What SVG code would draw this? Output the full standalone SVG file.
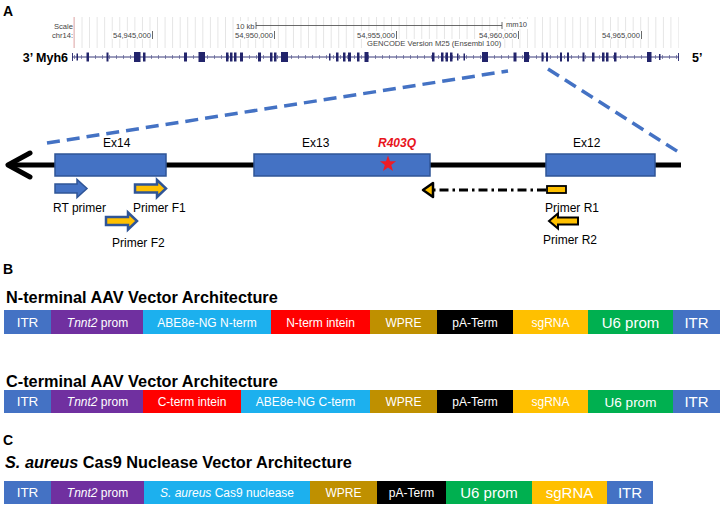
<svg xmlns="http://www.w3.org/2000/svg" width="721" height="510" viewBox="0 0 721 510">
<defs>
<pattern id="grid" patternUnits="userSpaceOnUse" x="74" y="0" width="7.55" height="60">
<line x1="0.4" y1="0" x2="0.4" y2="60" stroke="#dcdcdc" stroke-width="0.8"/>
</pattern>
</defs>
<style>
text{font-family:"Liberation Sans",Arial,sans-serif;}
.lab{font-weight:bold;font-size:14px;fill:#000;}
.ucsc{font-size:7.6px;fill:#444;}
.ex{fill:#22246b;}
.exon{fill:#4472C4;stroke:#2F5597;stroke-width:1.5;}
.t12{font-size:12px;fill:#000;}
.title{font-weight:bold;font-size:16.3px;fill:#000;}
.seg text{fill:#fff;text-anchor:middle;font-size:12px;}
.seg text.big{font-size:15px;}
.seg text.mid{font-size:13.5px;}
.zoomline{stroke:#4472C4;stroke-width:3.5;stroke-dasharray:13 7;fill:none;}
</style>

<text class="lab" x="3" y="16">A</text>

<g id="ucsc-track">
<rect x="73.6" y="17" width="605" height="31" fill="url(#grid)"/>
<line x1="74" y1="17" x2="74" y2="48" stroke="#e8a0a0" stroke-width="0.8"/>
<rect x="234" y="21" width="22" height="10" fill="#fff"/>
<rect x="502" y="19" width="28" height="10" fill="#fff"/>
<text class="ucsc" x="73" y="29" text-anchor="end">Scale</text>
<text class="ucsc" x="73" y="38" text-anchor="end">chr14:</text>
<text class="ucsc" x="236" y="29">10 kb</text>
<path d="M256 22V29M256 25.5H502M502 22V29" stroke="#444" stroke-width="0.8" fill="none"/>
<text class="ucsc" x="506" y="27">mm10</text>
<g class="ucsc">
<rect x="112" y="31" width="42" height="8" fill="#fff"/>
<rect x="234" y="31" width="42" height="8" fill="#fff"/>
<rect x="356" y="31" width="42" height="8" fill="#fff"/>
<rect x="478" y="31" width="42" height="8" fill="#fff"/>
<rect x="601" y="31" width="42" height="8" fill="#fff"/>
<rect x="366" y="39" width="138" height="9" fill="#fff"/>
<text x="151" y="38" text-anchor="end">54,945,000</text>
<text x="273" y="38" text-anchor="end">54,950,000</text>
<text x="395" y="38" text-anchor="end">54,955,000</text>
<text x="517" y="38" text-anchor="end">54,960,000</text>
<text x="640" y="38" text-anchor="end">54,965,000</text>
<text x="367" y="46">GENCODE Version M25 (Ensembl 100)</text>
</g>
<path d="M152.5 31V39M274.5 31V39M396.5 31V39M518.5 31V39M641.5 31V39" stroke="#444" stroke-width="0.8"/>
</g>

<g id="gene-myh6">
<text x="68" y="62" text-anchor="end" style="font-weight:bold;font-size:12.5px">3’ Myh6</text>
<text x="692" y="62" style="font-weight:bold;font-size:12.5px">5’</text>
<line x1="72" y1="57" x2="679" y2="57" stroke="#22246b" stroke-width="0.9"/>
<line x1="74" y1="57" x2="679" y2="57" stroke="#5a5c90" stroke-width="4" stroke-dasharray="0.7 6.3"/>
<line x1="72.5" y1="53" x2="72.5" y2="61" stroke="#22246b" stroke-width="0.9"/>
<line x1="678.5" y1="53" x2="678.5" y2="61" stroke="#22246b" stroke-width="0.9"/>
<g class="ex">
<rect x="76.5" y="53.5" width="1.5" height="7"/>
<rect x="86.5" y="52.5" width="2.5" height="9"/>
<rect x="106.5" y="52.5" width="2" height="9"/>
<rect x="134" y="52" width="6.5" height="10"/>
<rect x="143" y="52.5" width="2.5" height="9"/>
<rect x="184" y="52.5" width="3" height="9"/>
<rect x="198.5" y="52" width="6.5" height="10"/>
<rect x="226" y="52.5" width="2.5" height="9"/>
<rect x="230" y="52.5" width="2.5" height="9"/>
<rect x="234" y="52.5" width="2.5" height="9"/>
<rect x="240" y="52.5" width="3" height="9"/>
<rect x="258" y="52.5" width="3" height="9"/>
<rect x="270" y="52.5" width="2.5" height="9"/>
<rect x="274" y="52.5" width="2.5" height="9"/>
<rect x="281" y="52" width="7" height="10"/>
<rect x="329" y="53.5" width="1.5" height="7"/>
<rect x="336" y="52.5" width="2.5" height="9"/>
<rect x="343" y="52.5" width="2.5" height="9"/>
<rect x="348" y="52.5" width="3" height="9"/>
<rect x="357" y="52.5" width="2.5" height="9"/>
<rect x="364.5" y="52" width="4" height="10"/>
<rect x="432" y="52.5" width="2.5" height="9"/>
<rect x="441" y="52.5" width="2.5" height="9"/>
<rect x="445.5" y="52.5" width="2.5" height="9"/>
<rect x="450" y="52.5" width="2.5" height="9"/>
<rect x="457" y="53.5" width="1.5" height="7"/>
<rect x="463.5" y="53.5" width="1.5" height="7"/>
<rect x="482" y="52" width="6" height="10"/>
<rect x="513.5" y="52.5" width="3" height="9"/>
<rect x="524" y="52" width="5" height="10"/>
<rect x="541.5" y="52.5" width="2" height="9"/>
<rect x="546" y="52.5" width="2" height="9"/>
<rect x="560" y="52.5" width="2" height="9"/>
<rect x="567" y="52.5" width="2" height="9"/>
<rect x="582.5" y="52.5" width="2" height="9"/>
<rect x="592" y="52.5" width="2.5" height="9"/>
<rect x="602" y="52.5" width="2.5" height="9"/>
<rect x="606" y="52.5" width="2.5" height="9"/>
<rect x="614" y="52.5" width="2.5" height="9"/>
<rect x="647" y="52" width="4.5" height="10"/>
<rect x="659" y="54" width="1.5" height="6"/>
</g>
</g>

<g id="connectors">
<line class="zoomline" x1="47" y1="143" x2="508" y2="71"/>
<line class="zoomline" x1="548" y1="69" x2="680" y2="153"/>
<line x1="546" y1="190" x2="433" y2="190" stroke="#000" stroke-width="3" stroke-dasharray="9 4 2.5 4"/>
</g>

<g id="genomic-locus">
<line x1="10" y1="165" x2="681" y2="165" stroke="#000" stroke-width="5"/>
<polyline points="30,153 8,165 30,177" fill="none" stroke="#000" stroke-width="5" stroke-linecap="round" stroke-linejoin="round"/>
</g>

<g id="ex14">
<rect class="exon" x="55" y="154" width="111" height="22"/>
<text class="t12" x="103" y="147">Ex14</text>
</g>
<g id="ex13">
<rect class="exon" x="254" y="154" width="176" height="22"/>
<text class="t12" x="302" y="147">Ex13</text>
<text x="378" y="147" style="font-weight:bold;font-style:italic;font-size:12px;fill:#e8141c">R403Q</text>
<polygon points="388,155.5 390,161.25 396.08,161.37 391.23,165.05 393,170.88 388,167.4 383,170.88 384.77,165.05 379.92,161.37 386,161.25" fill="#ee1c25"/>
</g>
<g id="ex12">
<rect class="exon" x="546" y="154" width="109" height="22"/>
<text class="t12" x="573" y="147">Ex12</text>
</g>

<g id="rt-primer">
<polygon points="55,184 77,184 77,179.5 87,188.5 77,197.5 77,193 55,193" fill="#4472C4" stroke="#2F5597" stroke-width="1.5"/>
<text class="t12" x="53" y="212">RT primer</text>
</g>
<g id="primer-f1">
<polygon points="135,184.5 157,184.5 157,180 166,188.5 157,197 157,192.5 135,192.5" fill="#FFC000" stroke="#2F5597" stroke-width="2.5"/>
<text class="t12" x="133" y="212">Primer F1</text>
</g>
<g id="primer-f2">
<polygon points="106,217 128,217 128,212.5 137,221 128,229.5 128,225 106,225" fill="#FFC000" stroke="#2F5597" stroke-width="2.5"/>
<text class="t12" x="112" y="247">Primer F2</text>
</g>
<g id="primer-r1">
<polygon points="423,190 433,183 433,197" fill="#FFC000" stroke="#000" stroke-width="2.5" stroke-linejoin="round"/>
<rect x="547" y="186" width="19" height="7" fill="#FFC000" stroke="#000" stroke-width="1.8"/>
<text class="t12" x="545" y="212">Primer R1</text>
</g>
<g id="primer-r2">
<polygon points="549,221 558,213.5 558,217.5 578,217.5 578,224.5 558,224.5 558,228.5" fill="#FFC000" stroke="#000" stroke-width="2"/>
<text class="t12" x="543" y="244">Primer R2</text>
</g>

<text class="lab" x="3" y="274">B</text>
<text class="title" x="6" y="303">N-terminal AAV Vector Architecture</text>
<g id="n-terminal-vector" class="seg">
<rect x="4" y="310" width="47" height="24" fill="#4472C4"/>
<rect x="51" y="310" width="92" height="24" fill="#7030A0"/>
<rect x="143" y="310" width="128" height="24" fill="#1CB0EE"/>
<rect x="271" y="310" width="99" height="24" fill="#FF0000"/>
<rect x="370" y="310" width="67" height="24" fill="#BF9000"/>
<rect x="437" y="310" width="76" height="24" fill="#000"/>
<rect x="513" y="310" width="75" height="24" fill="#FFC000"/>
<rect x="588" y="310" width="85" height="24" fill="#00B050"/>
<rect x="673" y="310" width="47" height="24" fill="#4472C4"/>
<text class="mid" x="27.5" y="327">ITR</text>
<text x="97.5" y="326.5"><tspan font-style="italic">Tnnt2</tspan> prom</text>
<text x="207" y="326.5">ABE8e-NG N-term</text>
<text x="320.5" y="326.5">N-term intein</text>
<text x="403.5" y="326.5">WPRE</text>
<text x="475" y="326.5">pA-Term</text>
<text x="550.5" y="326.5">sgRNA</text>
<text class="big" x="630.5" y="327.5">U6 prom</text>
<text class="big" x="696.5" y="327.5">ITR</text>
</g>

<text class="title" x="6" y="387">C-terminal AAV Vector Architecture</text>
<g id="c-terminal-vector" class="seg">
<rect x="4" y="390" width="47" height="23" fill="#4472C4"/>
<rect x="51" y="390" width="92" height="23" fill="#7030A0"/>
<rect x="143" y="390" width="98" height="23" fill="#FF0000"/>
<rect x="241" y="390" width="129" height="23" fill="#1CB0EE"/>
<rect x="370" y="390" width="67" height="23" fill="#BF9000"/>
<rect x="437" y="390" width="76" height="23" fill="#000"/>
<rect x="513" y="390" width="75" height="23" fill="#FFC000"/>
<rect x="588" y="390" width="85" height="23" fill="#00B050"/>
<rect x="673" y="390" width="47" height="23" fill="#4472C4"/>
<text class="mid" x="27.5" y="406">ITR</text>
<text x="97.5" y="406"><tspan font-style="italic">Tnnt2</tspan> prom</text>
<text x="192" y="406">C-term intein</text>
<text x="305.5" y="406">ABE8e-NG C-term</text>
<text x="403.5" y="406">WPRE</text>
<text x="475" y="406">pA-Term</text>
<text x="550.5" y="406">sgRNA</text>
<text class="mid" x="630.5" y="406.5">U6 prom</text>
<text class="big" x="696.5" y="406.5">ITR</text>
</g>

<text class="lab" x="3" y="445">C</text>
<text class="title" x="5" y="468"><tspan font-style="italic">S. aureus</tspan> Cas9 Nuclease Vector Architecture</text>
<g id="sa-cas9-vector" class="seg">
<rect x="4" y="481" width="47" height="23" fill="#4472C4"/>
<rect x="51" y="481" width="93" height="23" fill="#7030A0"/>
<rect x="144" y="481" width="166" height="23" fill="#1CB0EE"/>
<rect x="310" y="481" width="67" height="23" fill="#BF9000"/>
<rect x="377" y="481" width="69" height="23" fill="#000"/>
<rect x="446" y="481" width="86" height="23" fill="#00B050"/>
<rect x="532" y="481" width="75" height="23" fill="#FFC000"/>
<rect x="607" y="481" width="46" height="23" fill="#4472C4"/>
<text class="mid" x="27.5" y="497">ITR</text>
<text x="97.5" y="497"><tspan font-style="italic">Tnnt2</tspan> prom</text>
<text x="227" y="497"><tspan font-style="italic">S. aureus</tspan> Cas9 nuclease</text>
<text x="343.5" y="497">WPRE</text>
<text x="411.5" y="497">pA-Term</text>
<text class="big" x="489" y="497.5">U6 prom</text>
<text class="big" x="569.5" y="497.5">sgRNA</text>
<text class="big" x="630" y="497.5">ITR</text>
</g>
</svg>
